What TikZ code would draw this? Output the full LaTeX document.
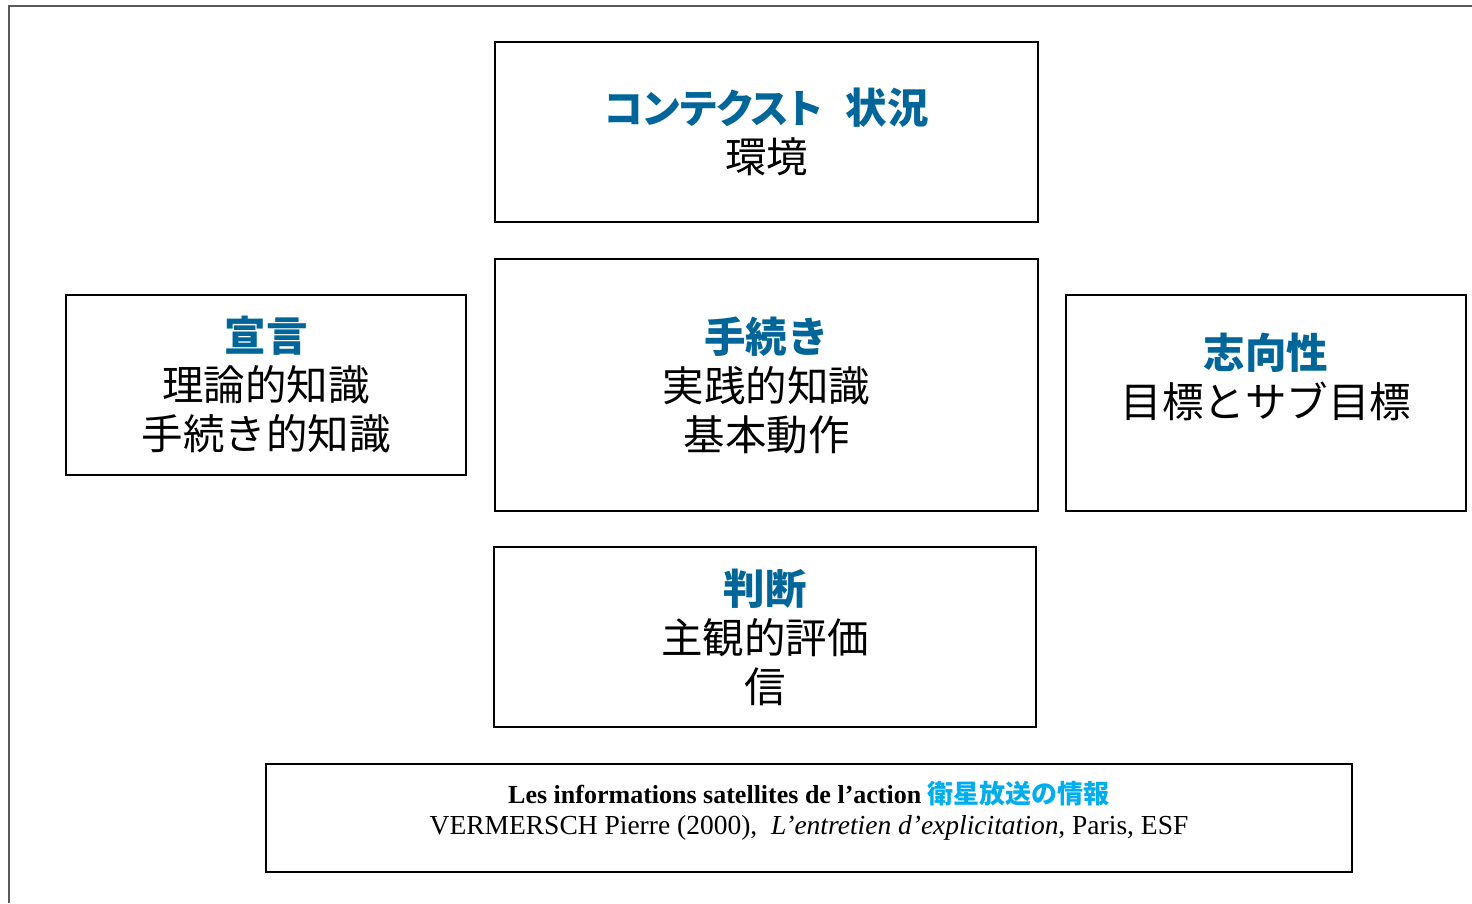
\documentclass[tikz,border=0pt]{standalone}
\usepackage{fontspec}
\setmainfont{Liberation Serif}
\newfontfamily\jp{Noto Sans CJK JP}
\newfontfamily\jpp{Noto Sans CJK JP}[RawFeature=+palt]
\definecolor{hblue}{RGB}{0,102,153}
\definecolor{hcyan}{RGB}{0,174,239}
\definecolor{framegray}{RGB}{90,90,90}
\tikzset{
  box/.style={draw=black,line width=1.3pt,inner sep=0pt},
  lbl/.style={align=center,font=\jp\fontsize{41.5}{49}\selectfont,inner sep=0pt},
  citeline/.style={anchor=base,inner sep=0pt}
}
\newcommand{\hdtext}[1]{{\color{hblue}\bfseries #1}}
\begin{document}
\begin{tikzpicture}[x=1pt,y=-1pt]
\useasboundingbox (0,0) rectangle (1472,903);
\draw[framegray,line width=2pt] (9,903) -- (9,5.5) -- (1472,5.5);
% boxes
\node[box,minimum width=543pt,minimum height=180pt] (ctx) at (766.5,132) {};
\node[box,minimum width=543pt,minimum height=252pt] (proc) at (766.5,385) {};
\node[box,minimum width=400pt,minimum height=180pt] (decl) at (266,385) {};
\node[box,minimum width=400pt,minimum height=216pt] (intent) at (1266,403) {};
\node[box,minimum width=542pt,minimum height=180pt] (judg) at (765,637) {};
\node[box,minimum width=1086pt,minimum height=108pt] (cite) at (809,818) {};
% texts
\node[lbl] (ctxt) at (ctx.center) {\hdtext{{\jpp\fontsize{40}{49}\selectfont コンテクスト}\hspace{0.55em}状況}\\環境};
\node[lbl] (proct) at (proc.center) {\hdtext{手続き}\\実践的知識\\基本動作};
\node[lbl] (declt) at (decl.center) {\hdtext{宣言}\\理論的知識\\手続き的知識};
\node[lbl] (intentt) at (1266,377) {\hdtext{志向性}\\目標とサブ目標};
\node[lbl] (judgt) at (judg.center) {\hdtext{判断}\\主観的評価\\信};
\node[citeline,font=\fontsize{26}{30}\selectfont\bfseries] (cite1) at (809,803)
 {Les informations satellites de l’action {\jp\color{hcyan}衛星放送の情報}};
\node[citeline,font=\fontsize{27.5}{30}\selectfont] (cite2) at (809,834)
 {VERMERSCH Pierre (2000),\ \ \textit{L’entretien d’explicitation}, Paris, ESF};
\end{tikzpicture}
\end{document}
